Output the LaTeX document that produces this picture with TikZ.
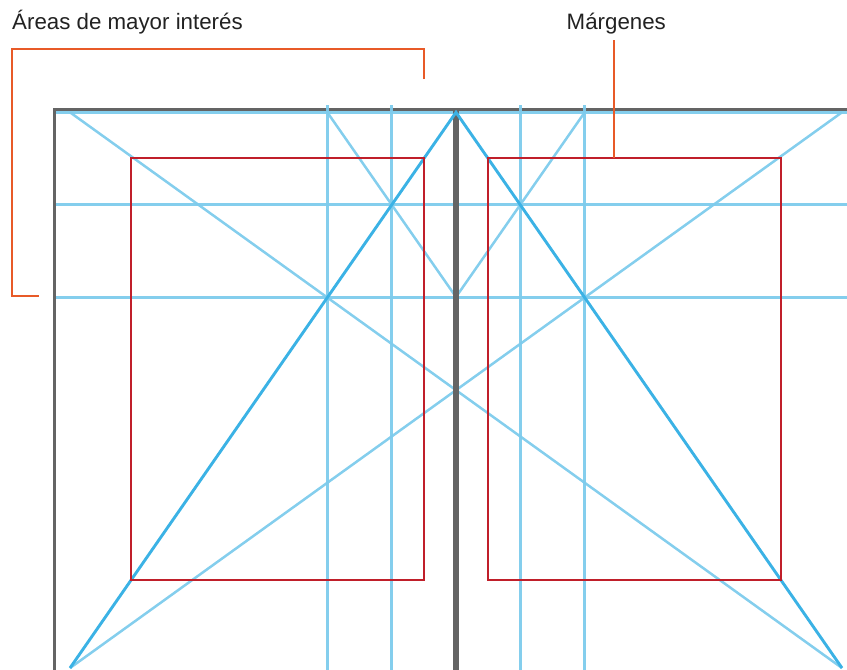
\documentclass[tikz,border=0pt]{standalone}
\usepackage{fontspec}
\setmainfont{Liberation Sans}
\definecolor{framegray}{HTML}{646464}
\definecolor{lblue}{HTML}{7DCBEC}
\definecolor{dblue}{HTML}{3BB2E5}
\definecolor{mred}{HTML}{C01F2A}
\definecolor{orng}{HTML}{E85A28}
\definecolor{txt}{HTML}{222222}
\tikzset{
  frameline/.style={draw=framegray,line width=3pt},
  spineline/.style={draw=framegray,line width=5.2pt},
  guide/.style={draw=lblue,line width=2.5pt,opacity=0.95},
  pagediag/.style={draw=dblue,line width=2.9pt},
  margin/.style={draw=mred,line width=2.8pt,line join=miter},
  callout/.style={draw=orng,line width=2.4pt,line join=miter},
  label/.style={text=txt,font=\fontsize{22.3}{27}\selectfont,inner sep=0pt,anchor=base west}
}
\begin{document}
\begin{tikzpicture}[x=1pt,y=-1pt]
\useasboundingbox (0,0) rectangle (847,670);
% key points
\coordinate (TL) at (70,112.3);
\coordinate (BL) at (70,668);
\coordinate (TR) at (842,112.3);
\coordinate (BR) at (842,668);
\coordinate (ST) at (456,112.3);
\coordinate (SB) at (456,670);
\coordinate (SV) at (456,297);
\coordinate (A1) at (327.3,112.3);
\coordinate (A2) at (584.7,112.3);
% frame
\draw[frameline] (54.7,670) -- (54.7,109.7) -- (847,109.7);
% guides
\draw[guide] (56,112.3) -- (847,112.3);
\draw[guide] (56,204.7) -- (847,204.7);
\draw[guide] (56,297.3) -- (847,297.3);
\draw[guide] (327.3,105) -- (327.3,670);
\draw[guide] (391.7,105) -- (391.7,670);
\draw[guide] (520.3,105) -- (520.3,670);
\draw[guide] (584.7,105) -- (584.7,670);
\draw[guide] (TL) -- (BR);
\draw[guide] (BL) -- (TR);
\draw[guide] (A1) -- (SV);
\draw[guide] (A2) -- (SV);
% spine
\draw[spineline] (456,108.2) -- (SB);
% page diagonals
\draw[pagediag] (BL) -- (ST) -- (BR);
% margins
\draw[margin] (131,158) rectangle (424,580);
\draw[margin] (488,158) rectangle (781,580);
% labels
\node[label] (areas) at (12,29.3) {Áreas de mayor interés};
\node[label] (marg) at (566.5,29.3) {Márgenes};
\coordinate (mtop) at (614,40);
\coordinate (mbot) at (614,158);
\draw[callout] (mtop) -- (mbot);
\coordinate (b1) at (424,79);
\coordinate (b2) at (424,49);
\coordinate (b3) at (12,49);
\coordinate (b4) at (12,296);
\coordinate (b5) at (39,296);
\draw[callout] (b1) -- (b2) -- (b3) -- (b4) -- (b5);
\end{tikzpicture}
\end{document}
